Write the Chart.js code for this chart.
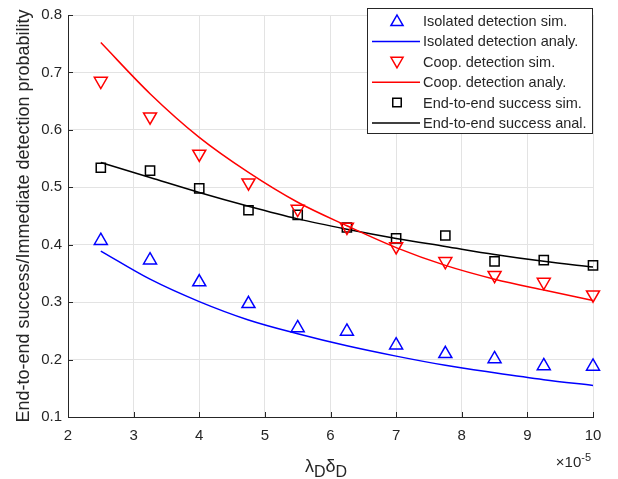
<!DOCTYPE html>
<html><head><meta charset="utf-8">
<script src="https://cdn.jsdelivr.net/npm/chart.js@4"></script>
<style>html,body{margin:0;padding:0;background:#fff}</style>
</head><body>
<canvas id="c" width="618" height="479" style="width:618px;height:479px;display:block"></canvas>
<script>
// ---- data (x in units of 1e-5) ----
const xVals = [2.5, 3.25, 4, 4.75, 5.5, 6.25, 7, 7.75, 8.5, 9.25, 10];
const isoSim  = [0.407, 0.373, 0.335, 0.297, 0.255, 0.249, 0.225, 0.210, 0.201, 0.189, 0.188];
const isoAnaly = [0.389, 0.340, 0.301, 0.269, 0.245, 0.224, 0.206, 0.190, 0.177, 0.165, 0.155];
const coopSim = [0.685, 0.623, 0.558, 0.508, 0.462, 0.431, 0.397, 0.371, 0.347, 0.335, 0.313];
const coopAnaly = [0.752, 0.663, 0.587, 0.526, 0.474, 0.433, 0.395, 0.364, 0.340, 0.321, 0.303];
const e2eSim = [0.534, 0.529, 0.498, 0.460, 0.452, 0.430, 0.411, 0.416, 0.371, 0.373, 0.364];
const e2eAnaly = [0.543, 0.517, 0.491, 0.467, 0.445, 0.427, 0.411, 0.397, 0.383, 0.371, 0.361];
const xTicks = [2, 3, 4, 5, 6, 7, 8, 9, 10];
const yTicks = [0.1, 0.2, 0.3, 0.4, 0.5, 0.6, 0.7, 0.8];
const legendLabels = ['Isolated detection sim.', 'Isolated detection analy.', 'Coop. detection sim.', 'Coop. detection analy.', 'End-to-end success sim.', 'End-to-end success anal.'];
const yTitle = 'End-to-end success/Immediate detection probability';

const pts = arr => xVals.map((x, i) => ({x: x, y: arr[i]}));
const FONT = '"Liberation Sans", Arial, Helvetica, sans-serif';
const AX = '#262626';

function simDs(label, data, color, style, rot, r) {
  return {label, data: pts(data), showLine: false, borderColor: color, backgroundColor: 'rgba(0,0,0,0)',
    pointStyle: style, rotation: rot, pointRadius: r, pointBorderWidth: 1.5, pointHoverRadius: r, clip: false};
}
function lineDs(label, data, color) {
  return {label, data: pts(data), showLine: true, borderColor: color, borderWidth: 1.5, pointRadius: 0,
    cubicInterpolationMode: 'monotone', fill: false, clip: false};
}

const datasets = [
  simDs(legendLabels[0], isoSim, '#0000ff', 'triangle', 0, 7.5),
  lineDs(legendLabels[1], isoAnaly, '#0000ff'),
  simDs(legendLabels[2], coopSim, '#ff0000', 'triangle', 180, 7.5),
  lineDs(legendLabels[3], coopAnaly, '#ff0000'),
  simDs(legendLabels[4], e2eSim, '#000000', 'rect', 0, 6.5),
  lineDs(legendLabels[5], e2eAnaly, '#000000'),
];

const decor = {
  id: 'decor',
  afterDatasetsDraw(chart) {
    const ctx = chart.ctx, xs = chart.scales.x, ys = chart.scales.y, ca = chart.chartArea;
    ctx.save();
    // inward ticks
    ctx.strokeStyle = AX; ctx.lineWidth = 1;
    ctx.beginPath();
    xTicks.forEach(v => { const px = Math.round(xs.getPixelForValue(v)) + 0.5; ctx.moveTo(px, ca.bottom); ctx.lineTo(px, ca.bottom - 5); });
    yTicks.forEach(v => { const py = Math.round(ys.getPixelForValue(v)) + 0.5; ctx.moveTo(ca.left, py); ctx.lineTo(ca.left + 5, py); });
    ctx.stroke();

    // y title
    ctx.fillStyle = AX;
    ctx.font = '18px ' + FONT;
    ctx.textAlign = 'center'; ctx.textBaseline = 'middle';
    ctx.save();
    ctx.translate(24, (ca.top + ca.bottom) / 2);
    ctx.rotate(-Math.PI / 2);
    ctx.fillText(yTitle, 0, 0);
    ctx.restore();

    // x title: lambda_D delta_D
    ctx.textAlign = 'left'; ctx.textBaseline = 'alphabetic';
    const big = '18px ' + FONT, small = '16px ' + FONT;
    const parts = [['\u03bb', big, 0], ['D', small, 5], ['\u03b4', big, 0], ['D', small, 5]];
    let w = 0;
    parts.forEach(p => { ctx.font = p[1]; w += ctx.measureText(p[0]).width; });
    let cx = 326 - w / 2;
    parts.forEach(p => { ctx.font = p[1]; ctx.fillText(p[0], cx, 472 + p[2]); cx += ctx.measureText(p[0]).width; });

    // x10^-5
    ctx.textAlign = 'right';
    ctx.font = '11px ' + FONT;
    const supW = ctx.measureText('-5').width;
    ctx.fillText('-5', 591, 461);
    ctx.font = '15px ' + FONT;
    ctx.fillText('\u00d710', 591 - supW, 467);

    // legend
    const lx = 367.5, ly = 8.5, lw = 225, lh = 125;
    ctx.fillStyle = '#ffffff';
    ctx.fillRect(lx, ly, lw, lh);
    ctx.strokeStyle = AX; ctx.lineWidth = 1;
    ctx.strokeRect(lx, ly, lw, lh);
    ctx.font = '14.5px ' + FONT;
    ctx.textAlign = 'left'; ctx.textBaseline = 'middle';
    datasets.forEach((ds, i) => {
      const yy = 21 + i * 20.4;
      ctx.strokeStyle = ds.borderColor; ctx.lineWidth = 1.5;
      if (ds.showLine) {
        ctx.beginPath(); ctx.moveTo(372, yy); ctx.lineTo(420, yy); ctx.stroke();
      } else {
        ctx.fillStyle = 'rgba(0,0,0,0)';
        Chart.helpers.drawPoint(ctx, {pointStyle: ds.pointStyle, rotation: ds.rotation, radius: ds.pointStyle === 'rect' ? 6 : 7, borderWidth: 1.5}, 397, yy + (ds.pointStyle === 'triangle' ? (ds.rotation ? -1 : 1) : 0));
      }
      ctx.fillStyle = AX;
      ctx.fillText(ds.label, 423, yy + 1);
    });
    ctx.restore();
  }
};

new Chart(document.getElementById('c'), {
  type: 'scatter',
  data: {datasets},
  options: {
    responsive: false, animation: false, devicePixelRatio: 1,
    layout: {padding: {top: 8, right: 25, left: 0, bottom: 0}},
    plugins: {legend: {display: false}, tooltip: {enabled: false}},
    scales: {
      x: {type: 'linear', min: 2, max: 10,
        afterBuildTicks: s => { s.ticks = xTicks.map(v => ({value: v})); },
        afterFit: s => { s.height = 62; },
        ticks: {font: {size: 15, family: FONT}, color: AX, padding: 10, maxRotation: 0, callback: v => String(v)},
        grid: {color: '#e3e3e3', drawTicks: false, lineWidth: 1},
        border: {color: AX, width: 1}},
      y: {min: 0.1, max: 0.8,
        afterBuildTicks: s => { s.ticks = yTicks.map(v => ({value: v})); },
        afterFit: s => { s.width = 68; },
        ticks: {font: {size: 15, family: FONT}, color: AX, padding: 6, callback: v => v.toFixed(1)},
        grid: {color: '#e3e3e3', drawTicks: false, lineWidth: 1},
        border: {color: AX, width: 1}}
    }
  },
  plugins: [decor]
});
</script>
</body></html>
